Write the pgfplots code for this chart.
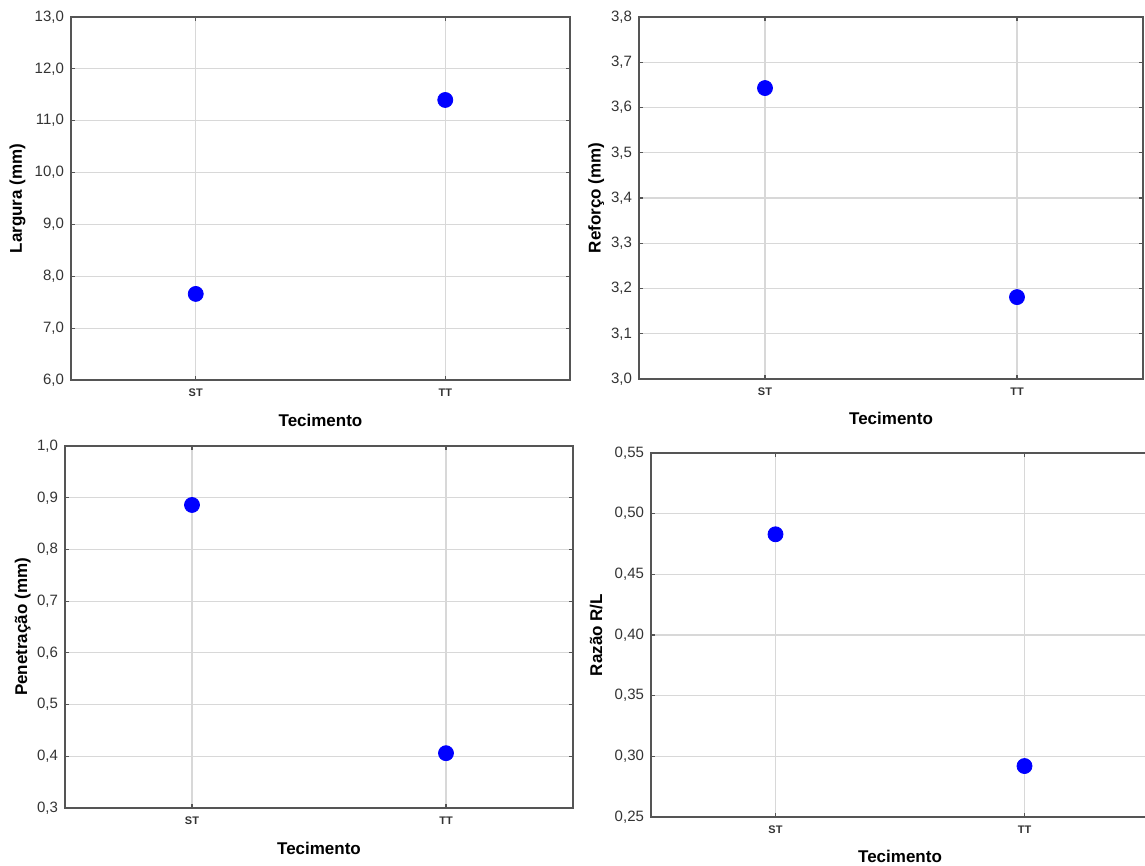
\documentclass[border=0pt]{standalone}
\usepackage{pgfplots}
\pgfplotsset{compat=1.18}
\usepackage{fontspec}
\setmainfont{Liberation Sans}

\definecolor{axgray}{HTML}{555555}
\definecolor{gridgray}{HTML}{D8D8D8}
\definecolor{tickgray}{HTML}{333333}
\definecolor{ptblue}{RGB}{0,0,255}

\pgfplotsset{
  panel/.style={
    scale only axis,
    xmin=-0.5, xmax=1.5,
    xtick={0,1}, xticklabels={ST,TT},
    grid=major,
    major grid style={gridgray, line width=0.6pt},
    axis line style={axgray, line width=0.8pt},
    tick style={axgray, line width=0.6pt},
    major tick length=2pt,
    /pgf/number format/assume math mode=true,
    yticklabel style={tickgray, font=\fontsize{7.5}{8}\selectfont},
    xticklabel style={tickgray, font=\fontsize{5.5}{6}\selectfont\bfseries, anchor=center, yshift=-6.5pt},
    y tick label style={/pgf/number format/.cd, use comma, fixed, fixed zerofill},
    xlabel style={font=\fontsize{8.5}{10}\selectfont\bfseries, anchor=center},
    ylabel style={font=\fontsize{8.5}{10}\selectfont\bfseries, anchor=center},
    xlabel={Tecimento},
    clip=false,
  },
  dot/.style={only marks, mark=*, mark size=3.75pt, mark options={draw=ptblue, fill=ptblue}},
}

\begin{document}
\begin{tikzpicture}
\path[use as bounding box] (0pt,0pt) rectangle (572.5pt,-433pt);
\begin{scope}
\clip (0pt,0pt) rectangle (572.5pt,-433pt);

% Panel 1
\begin{axis}[panel, at={(35.5pt,-190pt)}, anchor=south west,
  width=249.5pt, height=181.5pt,
  ymin=6, ymax=13, ytick={6,7,...,13},
  y tick label style={/pgf/number format/precision=1},
  ylabel={Largura (mm)},
  ylabel style={at={(axis description cs:-0.107,0.5)}},
  xlabel style={at={(axis description cs:0.5,-0.110)}}]
\addplot[dot] coordinates {(0,7.66) (1,11.40)};
\end{axis}

% Panel 2
\begin{axis}[panel, at={(319.5pt,-189.5pt)}, anchor=south west,
  width=252pt, height=181pt,
  ymin=3.0, ymax=3.8, ytick={3.0,3.1,3.2,3.3,3.4,3.5,3.6,3.7,3.8},
  y tick label style={/pgf/number format/precision=1},
  ylabel={Reforço (mm)},
  ylabel style={at={(axis description cs:-0.085,0.5)}},
  xlabel style={at={(axis description cs:0.5,-0.110)}}]
\addplot[dot] coordinates {(0,3.643) (1,3.181)};
\end{axis}

% Panel 3
\begin{axis}[panel, at={(32.5pt,-404pt)}, anchor=south west,
  width=254pt, height=181pt,
  ymin=0.3, ymax=1.0, ytick={0.3,0.4,0.5,0.6,0.7,0.8,0.9,1.0},
  y tick label style={/pgf/number format/precision=1},
  ylabel={Penetração (mm)},
  ylabel style={at={(axis description cs:-0.083,0.5)}},
  xlabel style={at={(axis description cs:0.5,-0.113)}}]
\addplot[dot] coordinates {(0,0.886) (1,0.406)};
\end{axis}

% Panel 4
\begin{axis}[panel, at={(325.5pt,-408.5pt)}, anchor=south west,
  width=249pt, height=182pt,
  ymin=0.25, ymax=0.55, ytick={0.25,0.30,0.35,0.40,0.45,0.50,0.55},
  y tick label style={/pgf/number format/precision=2},
  ylabel={Razão R/L},
  ylabel style={at={(axis description cs:-0.110,0.5)}},
  xlabel style={at={(axis description cs:0.5,-0.107)}}]
\addplot[dot] coordinates {(0,0.483) (1,0.292)};
\end{axis}
\end{scope}
\end{tikzpicture}
\end{document}
